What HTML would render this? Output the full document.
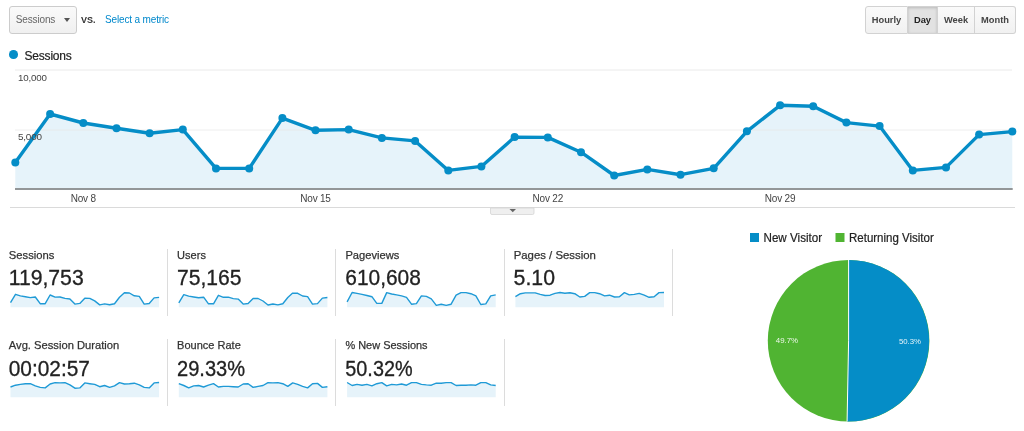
<!DOCTYPE html>
<html><head><meta charset="utf-8"><title>Audience Overview</title>
<style>
html,body{margin:0;padding:0;background:#fff;}
body{width:1024px;height:431px;position:relative;overflow:hidden;font-family:"Liberation Sans",sans-serif;color:#222;}
.abs{position:absolute;}
.btn{position:absolute;box-sizing:border-box;border:1px solid #ccc;border-radius:3px;background:linear-gradient(#fafafa,#f0f0f0);font-size:10px;letter-spacing:-0.15px;color:#666;}
.seg{position:absolute;top:6px;height:28px;box-sizing:border-box;font-size:9.3px;font-weight:bold;color:#444;text-align:center;line-height:26.5px;border:1px solid #d2d2d2;border-left:none;background:linear-gradient(#fafafa,#f1f1f1);}
.dv{position:absolute;width:1px;height:67px;background:#dcdcdc;}
text{font-family:"Liberation Sans",sans-serif;}
</style></head><body>
<div class="btn" style="left:9px;top:6px;width:68px;height:28px;line-height:26px;padding-left:5.8px;">Sessions<span style="position:absolute;left:53.6px;top:11px;width:0;height:0;border-left:3.5px solid transparent;border-right:3.5px solid transparent;border-top:4px solid #555;"></span></div>
<div class="abs" style="left:81px;top:12.6px;font-size:9px;font-weight:bold;color:#333;line-height:14px;">VS.</div>
<div class="abs" style="left:105px;top:13px;font-size:10px;letter-spacing:-0.15px;color:#0088cc;line-height:14px;">Select a metric</div>

<div class="seg" style="left:865px;width:43px;border-left:1px solid #d2d2d2;border-radius:3px 0 0 3px;">Hourly</div>
<div class="seg" style="left:908px;width:30px;background:#e2e2e2;box-shadow:inset 0 1px 3px rgba(0,0,0,.18);color:#222;">Day</div>
<div class="seg" style="left:938px;width:37px;">Week</div>
<div class="seg" style="left:975px;width:41px;border-radius:0 3px 3px 0;">Month</div>

<div class="abs" style="left:9px;top:50.4px;width:8.5px;height:8.5px;border-radius:50%;background:#058dc7;"></div>
<div class="abs" style="left:24.5px;top:48.5px;font-size:12px;letter-spacing:-0.2px;line-height:14px;color:#222;-webkit-text-stroke:0.2px #222;">Sessions</div>

<svg class="abs" style="left:0;top:0" width="1024" height="431">
<line x1="15" y1="70" x2="1012" y2="70" stroke="#eaeaea" stroke-width="1"/>
<polygon points="15.3,188.5 15.3,162.4 50.1,114.0 83.3,123.0 116.5,128.3 149.6,133.3 182.8,129.6 216.0,168.4 249.2,168.4 282.4,118.1 315.5,130.3 348.7,129.6 381.9,137.9 415.1,140.9 448.3,170.4 481.4,166.4 514.6,137.1 547.8,137.4 581.0,152.2 614.2,175.5 647.3,169.4 680.5,174.7 713.7,168.3 746.9,131.3 780.1,105.3 813.2,106.3 846.4,122.6 879.6,126.1 912.8,170.4 946.0,167.4 979.1,134.6 1012.3,131.6 1012.3,188.5" fill="#e6f3fa"/>
<line x1="15" y1="130" x2="1012" y2="130" stroke="#e6e6e6" stroke-width="1" opacity="0.7"/>
<line x1="15" y1="189" x2="1012.7" y2="189" stroke="#939698" stroke-width="2"/>
<line x1="10" y1="207.5" x2="1015" y2="207.5" stroke="#dadada" stroke-width="1"/>
<polyline points="15.3,162.4 50.1,114.0 83.3,123.0 116.5,128.3 149.6,133.3 182.8,129.6 216.0,168.4 249.2,168.4 282.4,118.1 315.5,130.3 348.7,129.6 381.9,137.9 415.1,140.9 448.3,170.4 481.4,166.4 514.6,137.1 547.8,137.4 581.0,152.2 614.2,175.5 647.3,169.4 680.5,174.7 713.7,168.3 746.9,131.3 780.1,105.3 813.2,106.3 846.4,122.6 879.6,126.1 912.8,170.4 946.0,167.4 979.1,134.6 1012.3,131.6" fill="none" stroke="#058dc7" stroke-width="3.4" stroke-linejoin="round" stroke-linecap="round"/>
<g fill="#058dc7"><circle cx="15.3" cy="162.4" r="4"/><circle cx="50.1" cy="114.0" r="4"/><circle cx="83.3" cy="123.0" r="4"/><circle cx="116.5" cy="128.3" r="4"/><circle cx="149.6" cy="133.3" r="4"/><circle cx="182.8" cy="129.6" r="4"/><circle cx="216.0" cy="168.4" r="4"/><circle cx="249.2" cy="168.4" r="4"/><circle cx="282.4" cy="118.1" r="4"/><circle cx="315.5" cy="130.3" r="4"/><circle cx="348.7" cy="129.6" r="4"/><circle cx="381.9" cy="137.9" r="4"/><circle cx="415.1" cy="140.9" r="4"/><circle cx="448.3" cy="170.4" r="4"/><circle cx="481.4" cy="166.4" r="4"/><circle cx="514.6" cy="137.1" r="4"/><circle cx="547.8" cy="137.4" r="4"/><circle cx="581.0" cy="152.2" r="4"/><circle cx="614.2" cy="175.5" r="4"/><circle cx="647.3" cy="169.4" r="4"/><circle cx="680.5" cy="174.7" r="4"/><circle cx="713.7" cy="168.3" r="4"/><circle cx="746.9" cy="131.3" r="4"/><circle cx="780.1" cy="105.3" r="4"/><circle cx="813.2" cy="106.3" r="4"/><circle cx="846.4" cy="122.6" r="4"/><circle cx="879.6" cy="126.1" r="4"/><circle cx="912.8" cy="170.4" r="4"/><circle cx="946.0" cy="167.4" r="4"/><circle cx="979.1" cy="134.6" r="4"/><circle cx="1012.3" cy="131.6" r="4"/></g>
<g font-size="10" letter-spacing="-0.2" fill="#444">
<text x="18" y="81" font-size="9.5" textLength="28.6" lengthAdjust="spacingAndGlyphs">10,000</text>
<text x="18" y="140" font-size="9.5" textLength="23.8" lengthAdjust="spacingAndGlyphs">5,000</text>
<text x="83.3" y="202" text-anchor="middle">Nov 8</text>
<text x="315.5" y="202" text-anchor="middle">Nov 15</text>
<text x="547.8" y="202" text-anchor="middle">Nov 22</text>
<text x="780.1" y="202" text-anchor="middle">Nov 29</text>
</g>
<path d="M490.5,208 H534 V213 Q534,214.5 532.5,214.5 H492 Q490.5,214.5 490.5,213 Z" fill="#efefef" stroke="#d4d4d4" stroke-width="0.8"/>
<path d="M509.5,209 h6.5 l-3.25,3.2 z" fill="#666"/>
<circle cx="848.6" cy="340.8" r="80.8" fill="#50b432"/>
<path d="M848.6,340.8 L848.6,260.0 A80.8,80.8 0 1 1 847.08,421.59 Z" fill="#058dc7"/>
<path d="M848.6,260.0 L848.6,340.8 L847.08,421.59" stroke="#fff" stroke-width="1" fill="none"/>
<g font-size="8" fill="#fff"><text x="775.8" y="342.8" opacity="0.9" textLength="22.3" lengthAdjust="spacingAndGlyphs">49.7%</text><text x="898.9" y="344.3" opacity="0.9" textLength="22.1" lengthAdjust="spacingAndGlyphs">50.3%</text></g>
<rect x="750" y="233" width="9" height="9" fill="#058dc7"/>
<rect x="835.5" y="233" width="9" height="9" fill="#50b432"/>
<g font-size="12" fill="#222" stroke="#222" stroke-width="0.2"><text x="763.5" y="241.7" textLength="58.6" lengthAdjust="spacingAndGlyphs">New Visitor</text><text x="849" y="241.7" textLength="84.8" lengthAdjust="spacingAndGlyphs">Returning Visitor</text></g>
</svg>
<svg class="abs" style="left:0;top:0" width="1024" height="431">
<text x="8.8" y="259.3" font-size="11.5" textLength="45.6" lengthAdjust="spacingAndGlyphs" fill="#333" stroke="#333" stroke-width="0.25">Sessions</text><text x="8.7" y="285.2" font-size="21.5" textLength="75.0" lengthAdjust="spacingAndGlyphs" fill="#222" stroke="#222" stroke-width="0.3">119,753</text><polygon points="10.5,307.2 10.5,302.7 15.5,294.3 20.4,295.9 25.4,296.8 30.3,297.6 35.3,297.0 40.2,303.7 45.2,303.7 50.1,295.0 55.1,297.1 60.0,297.0 65.0,298.4 69.9,299.0 74.9,304.1 79.8,303.4 84.8,298.3 89.8,298.4 94.7,300.9 99.7,304.9 104.6,303.9 109.6,304.8 114.5,303.7 119.5,297.3 124.4,292.8 129.4,293.0 134.3,295.8 139.3,296.4 144.2,304.1 149.2,303.5 154.1,297.9 159.1,297.4 159.1,307.2" fill="#e6f3fa"/><polyline points="10.5,302.7 15.5,294.3 20.4,295.9 25.4,296.8 30.3,297.6 35.3,297.0 40.2,303.7 45.2,303.7 50.1,295.0 55.1,297.1 60.0,297.0 65.0,298.4 69.9,299.0 74.9,304.1 79.8,303.4 84.8,298.3 89.8,298.4 94.7,300.9 99.7,304.9 104.6,303.9 109.6,304.8 114.5,303.7 119.5,297.3 124.4,292.8 129.4,293.0 134.3,295.8 139.3,296.4 144.2,304.1 149.2,303.5 154.1,297.9 159.1,297.4" fill="none" stroke="#1f9ad6" stroke-width="1.4" stroke-linejoin="round"/>
<text x="177.1" y="259.3" font-size="11.5" textLength="28.8" lengthAdjust="spacingAndGlyphs" fill="#333" stroke="#333" stroke-width="0.25">Users</text><text x="177.0" y="285.2" font-size="21.5" textLength="64.5" lengthAdjust="spacingAndGlyphs" fill="#222" stroke="#222" stroke-width="0.3">75,165</text><polygon points="178.8,307.2 178.8,302.8 183.8,294.6 188.7,296.1 193.7,297.0 198.6,297.8 203.6,297.2 208.5,303.8 213.5,303.8 218.4,295.3 223.4,297.3 228.3,297.2 233.3,298.6 238.2,299.1 243.2,304.1 248.1,303.5 253.1,298.5 258.1,298.5 263.0,301.0 268.0,305.0 272.9,304.0 277.9,304.9 282.8,303.8 287.8,297.5 292.7,293.1 297.7,293.3 302.6,296.0 307.6,296.6 312.5,304.1 317.5,303.6 322.4,298.1 327.4,297.5 327.4,307.2" fill="#e6f3fa"/><polyline points="178.8,302.8 183.8,294.6 188.7,296.1 193.7,297.0 198.6,297.8 203.6,297.2 208.5,303.8 213.5,303.8 218.4,295.3 223.4,297.3 228.3,297.2 233.3,298.6 238.2,299.1 243.2,304.1 248.1,303.5 253.1,298.5 258.1,298.5 263.0,301.0 268.0,305.0 272.9,304.0 277.9,304.9 282.8,303.8 287.8,297.5 292.7,293.1 297.7,293.3 302.6,296.0 307.6,296.6 312.5,304.1 317.5,303.6 322.4,298.1 327.4,297.5" fill="none" stroke="#1f9ad6" stroke-width="1.4" stroke-linejoin="round"/>
<text x="345.4" y="259.3" font-size="11.5" textLength="53.9" lengthAdjust="spacingAndGlyphs" fill="#333" stroke="#333" stroke-width="0.25">Pageviews</text><text x="345.3" y="285.2" font-size="21.5" textLength="75.5" lengthAdjust="spacingAndGlyphs" fill="#222" stroke="#222" stroke-width="0.3">610,608</text><polygon points="347.1,307.2 347.1,301.9 352.1,292.5 357.0,293.4 362.0,294.4 366.9,295.5 371.9,296.7 376.8,303.4 381.8,303.4 386.7,292.6 391.7,294.0 396.6,294.9 401.6,295.9 406.5,297.3 411.5,304.2 416.4,303.6 421.4,295.9 426.4,296.4 431.3,298.9 436.3,305.4 441.2,304.2 446.2,305.4 451.1,304.2 456.1,295.2 461.0,292.6 466.0,292.6 470.9,293.7 475.9,295.9 480.8,304.5 485.8,303.9 490.7,295.9 495.7,294.9 495.70000000000005,307.2" fill="#e6f3fa"/><polyline points="347.1,301.9 352.1,292.5 357.0,293.4 362.0,294.4 366.9,295.5 371.9,296.7 376.8,303.4 381.8,303.4 386.7,292.6 391.7,294.0 396.6,294.9 401.6,295.9 406.5,297.3 411.5,304.2 416.4,303.6 421.4,295.9 426.4,296.4 431.3,298.9 436.3,305.4 441.2,304.2 446.2,305.4 451.1,304.2 456.1,295.2 461.0,292.6 466.0,292.6 470.9,293.7 475.9,295.9 480.8,304.5 485.8,303.9 490.7,295.9 495.7,294.9" fill="none" stroke="#1f9ad6" stroke-width="1.4" stroke-linejoin="round"/>
<text x="513.7" y="259.3" font-size="11.5" textLength="82.2" lengthAdjust="spacingAndGlyphs" fill="#333" stroke="#333" stroke-width="0.25">Pages / Session</text><text x="513.6" y="285.2" font-size="21.5" textLength="41.4" lengthAdjust="spacingAndGlyphs" fill="#222" stroke="#222" stroke-width="0.3">5.10</text><polygon points="515.4000000000001,307.2 515.4,296.7 520.4,293.7 525.3,292.9 530.3,292.9 535.2,292.9 540.2,294.4 545.1,295.5 550.1,295.2 555.0,293.4 560.0,292.5 564.9,293.2 569.9,292.8 574.8,293.7 579.8,297.0 584.7,296.4 589.7,292.6 594.7,292.6 599.6,293.7 604.6,295.9 609.5,295.2 614.5,297.0 619.4,296.7 624.4,292.6 629.3,294.9 634.3,294.4 639.2,293.4 644.2,295.2 649.1,297.3 654.1,296.7 659.0,292.6 664.0,292.5 664.0000000000001,307.2" fill="#e6f3fa"/><polyline points="515.4,296.7 520.4,293.7 525.3,292.9 530.3,292.9 535.2,292.9 540.2,294.4 545.1,295.5 550.1,295.2 555.0,293.4 560.0,292.5 564.9,293.2 569.9,292.8 574.8,293.7 579.8,297.0 584.7,296.4 589.7,292.6 594.7,292.6 599.6,293.7 604.6,295.9 609.5,295.2 614.5,297.0 619.4,296.7 624.4,292.6 629.3,294.9 634.3,294.4 639.2,293.4 644.2,295.2 649.1,297.3 654.1,296.7 659.0,292.6 664.0,292.5" fill="none" stroke="#1f9ad6" stroke-width="1.4" stroke-linejoin="round"/>
<text x="8.8" y="349.3" font-size="11.5" textLength="110.5" lengthAdjust="spacingAndGlyphs" fill="#333" stroke="#333" stroke-width="0.25">Avg. Session Duration</text><text x="8.7" y="375.5" font-size="21.5" textLength="81.2" lengthAdjust="spacingAndGlyphs" fill="#222" stroke="#222" stroke-width="0.3">00:02:57</text><polygon points="10.5,397.2 10.5,387.0 15.5,385.2 20.4,384.4 25.4,383.7 30.3,383.7 35.3,385.9 40.2,387.4 45.2,387.9 50.1,384.0 55.1,382.6 60.0,382.9 65.0,382.6 69.9,384.9 74.9,388.2 79.8,387.9 84.8,382.9 89.8,383.7 94.7,384.4 99.7,386.7 104.6,385.5 109.6,387.4 114.5,385.9 119.5,382.6 124.4,384.0 129.4,383.7 134.3,383.2 139.3,384.9 144.2,387.4 149.2,387.9 154.1,382.9 159.1,382.5 159.1,397.2" fill="#e6f3fa"/><polyline points="10.5,387.0 15.5,385.2 20.4,384.4 25.4,383.7 30.3,383.7 35.3,385.9 40.2,387.4 45.2,387.9 50.1,384.0 55.1,382.6 60.0,382.9 65.0,382.6 69.9,384.9 74.9,388.2 79.8,387.9 84.8,382.9 89.8,383.7 94.7,384.4 99.7,386.7 104.6,385.5 109.6,387.4 114.5,385.9 119.5,382.6 124.4,384.0 129.4,383.7 134.3,383.2 139.3,384.9 144.2,387.4 149.2,387.9 154.1,382.9 159.1,382.5" fill="none" stroke="#1f9ad6" stroke-width="1.4" stroke-linejoin="round"/>
<text x="177.1" y="349.3" font-size="11.5" textLength="63.7" lengthAdjust="spacingAndGlyphs" fill="#333" stroke="#333" stroke-width="0.25">Bounce Rate</text><text x="177.0" y="375.5" font-size="21.5" textLength="68.1" lengthAdjust="spacingAndGlyphs" fill="#222" stroke="#222" stroke-width="0.3">29.33%</text><polygon points="178.8,397.2 178.8,383.7 183.8,385.5 188.7,387.9 193.7,385.9 198.6,385.5 203.6,387.0 208.5,385.2 213.5,383.7 218.4,387.0 223.4,386.4 228.3,386.4 233.3,386.7 238.2,387.0 243.2,384.0 248.1,383.7 253.1,387.4 258.1,386.4 263.0,385.5 268.0,382.6 272.9,382.9 277.9,382.6 282.8,383.7 287.8,386.4 292.7,382.9 297.7,384.4 302.6,386.4 307.6,387.9 312.5,383.7 317.5,383.4 322.4,387.4 327.4,386.7 327.4,397.2" fill="#e6f3fa"/><polyline points="178.8,383.7 183.8,385.5 188.7,387.9 193.7,385.9 198.6,385.5 203.6,387.0 208.5,385.2 213.5,383.7 218.4,387.0 223.4,386.4 228.3,386.4 233.3,386.7 238.2,387.0 243.2,384.0 248.1,383.7 253.1,387.4 258.1,386.4 263.0,385.5 268.0,382.6 272.9,382.9 277.9,382.6 282.8,383.7 287.8,386.4 292.7,382.9 297.7,384.4 302.6,386.4 307.6,387.9 312.5,383.7 317.5,383.4 322.4,387.4 327.4,386.7" fill="none" stroke="#1f9ad6" stroke-width="1.4" stroke-linejoin="round"/>
<text x="345.4" y="349.3" font-size="11.5" textLength="82.2" lengthAdjust="spacingAndGlyphs" fill="#333" stroke="#333" stroke-width="0.25">% New Sessions</text><text x="345.3" y="375.5" font-size="21.5" textLength="67.3" lengthAdjust="spacingAndGlyphs" fill="#222" stroke="#222" stroke-width="0.3">50.32%</text><polygon points="347.1,397.2 347.1,382.5 352.1,385.5 357.0,384.4 362.0,385.2 366.9,384.4 371.9,385.8 376.8,383.7 381.8,382.6 386.7,385.9 391.7,384.4 396.6,384.9 401.6,384.0 406.5,385.2 411.5,382.6 416.4,382.6 421.4,384.4 426.4,384.9 431.3,385.2 436.3,383.2 441.2,383.2 446.2,382.6 451.1,382.6 456.1,385.5 461.0,385.2 466.0,385.2 470.9,384.9 475.9,385.2 480.8,382.6 485.8,382.6 490.7,384.9 495.7,385.5 495.70000000000005,397.2" fill="#e6f3fa"/><polyline points="347.1,382.5 352.1,385.5 357.0,384.4 362.0,385.2 366.9,384.4 371.9,385.8 376.8,383.7 381.8,382.6 386.7,385.9 391.7,384.4 396.6,384.9 401.6,384.0 406.5,385.2 411.5,382.6 416.4,382.6 421.4,384.4 426.4,384.9 431.3,385.2 436.3,383.2 441.2,383.2 446.2,382.6 451.1,382.6 456.1,385.5 461.0,385.2 466.0,385.2 470.9,384.9 475.9,385.2 480.8,382.6 485.8,382.6 490.7,384.9 495.7,385.5" fill="none" stroke="#1f9ad6" stroke-width="1.4" stroke-linejoin="round"/>
</svg>
<div class="dv" style="left:167.0px;top:248.8px"></div><div class="dv" style="left:167.0px;top:338.5px"></div><div class="dv" style="left:335.3px;top:248.8px"></div><div class="dv" style="left:335.3px;top:338.5px"></div><div class="dv" style="left:503.6px;top:248.8px"></div><div class="dv" style="left:503.6px;top:338.5px"></div><div class="dv" style="left:671.9px;top:248.8px"></div>
</body></html>
